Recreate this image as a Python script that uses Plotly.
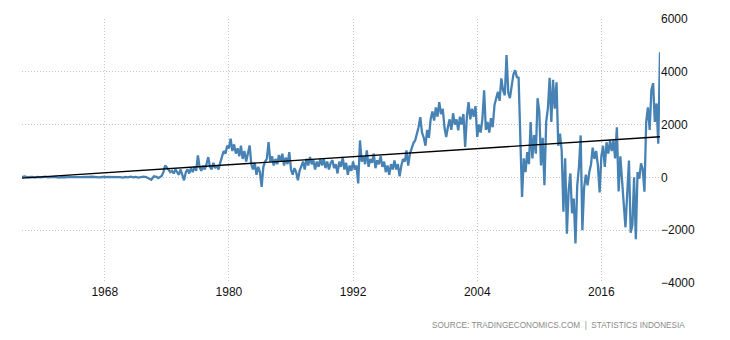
import pandas as pd
import plotly.graph_objects as go

# Quarterly values 1960-01 .. 1972-10 (USD million)
early_values = [
    20, 35, 10, 25,
    15, -10, 20, 5,
    10, 25, 0, 15,
    5, 20, -5, 10,
    15, 0, 20, 10,
    5, 15, -10, 10,
    20, 5, 15, 25,
    10, 20, 0, 15,
    15, 5, 25, 10,
    0, 20, 10, -10,
    15, 5, 25, 0,
    20, -5, 10, 30,
    15, -40, -90, 40,
]

# Bi-monthly values 1973-01 .. 2021-09 (USD million)
late_values = [
    20, -30, 10, 50, 200, 450,          # 1973
    380, 300, 200, 250, 150, 300,       # 1974
    200, 100, 300, 50, -110, 200,       # 1975
    300, 150, 350, 200, 400, 250,       # 1976
    830, 400, 250, 450, 300, 500,       # 1977
    770, 400, 300, 550, 350, 450,       # 1978
    300, 560, 760, 1000, 900, 1200,     # 1979
    1100, 1470, 1000, 1250, 900, 1100,  # 1980
    800, 1200, 700, 1000, 600, 900,     # 1981
    1210, 500, 300, 550, 100, 400,      # 1982
    200, -360, 400, 600, 700, 1340,     # 1983
    600, 800, 450, 700, 500, 850,       # 1984
    600, 900, 450, 750, 500, 960,       # 1985
    300, 100, 350, 200, -110, 250,      # 1986
    400, 600, 300, 700, 450, 770,       # 1987
    500, 650, 300, 600, 400, 700,       # 1988
    450, 720, 350, 600, 300, 550,       # 1989
    650, 350, 500, 150, 600, 400,       # 1990
    770, 300, 550, 100, 450, 250,       # 1991
    600, 300, 450, -230, 1400, 600,     # 1992
    800, 500, 1020, 400, 700, 550,      # 1993
    900, 350, 650, 500, 800, 400,       # 1994
    600, 200, 450, 100, 500, 300,       # 1995
    640, 300, 500, 40, 450, 700,        # 1996
    600, 1020, 450, 900, 1100, 1300,    # 1997
    1400, 1600, 1900, 2280, 1700, 1500, # 1998
    1200, 1800, 1500, 2200, 2500, 2150, # 1999
    2650, 2300, 2850, 2400, 2600, 1900, # 2000
    1530, 1900, 2200, 1800, 2430, 2000, # 2001
    2200, 1780, 2300, 2000, 2400, 1150, # 2002
    2300, 2850, 2200, 2600, 2300, 2700, # 2003
    1530, 2000, 1700, 2200, 3300, 1800, # 2004
    2100, 1700, 2240, 1900, 2730, 3000, # 2005
    3240, 2900, 3750, 3300, 3110, 4630, # 2006
    3200, 3000, 3380, 3900, 4060, 3800, # 2007
    3770, 1860, -740, 720, 200, 960,    # 2008
    500, 2100, 720, 1600, 900, 3000,    # 2009
    2480, 450, 1500, -300, 2100, 2620,  # 2010
    3770, 2100, 3700, 2600, 3600, 1200, # 2011
    1660, 1020, -1300, 720, -2130, -500,# 2012
    150, -1360, -800, -2500, -300, 400, # 2013
    1590, -2000, -400, 100, -300, 200,  # 2014
    500, 1130, 700, 1000, 450, -570,    # 2015
    800, 1200, 400, 1330, 900, 1400,    # 2016
    1000, 1400, 720, 1900, -530, 800,   # 2017
    -370, -1000, -1890, -800, 640, -2100, # 2018
    -1800, 0, -2340, 200, -50, 530,     # 2019
    300, -540, 2100, 2650, 1800, 3300,  # 2020
    3570, 2100, 2800, 1280, 4740,       # 2021
]

trend_dates = ["1960-01-01", "2021-09-01"]
trend_values = [-30, 1540]

x_ticks = ["1968-01-01", "1980-01-01", "1992-01-01", "2004-01-01", "2016-01-01"]
x_tick_labels = ["1968", "1980", "1992", "2004", "2016"]
y_ticks = [-4000, -2000, 0, 2000, 4000, 6000]

early_dates = pd.date_range("1960-01-01", periods=len(early_values), freq="QS")
late_dates = pd.date_range("1973-01-01", periods=len(late_values), freq="2MS")
dates = list(early_dates) + list(late_dates)
values = early_values + late_values

fig = go.Figure()
fig.add_trace(go.Scatter(x=dates, y=values, mode="lines",
                         line=dict(color="#4682b4", width=2.3), hoverinfo="skip"))
fig.add_trace(go.Scatter(x=trend_dates, y=trend_values, mode="lines",
                         line=dict(color="#000000", width=1.3), hoverinfo="skip"))

font_family = "Liberation Sans, Arial, sans-serif"
grid_style = dict(showgrid=True, gridcolor="#c4c4c4", griddash="1px,2px", gridwidth=1,
                  zeroline=False, showline=False, ticks="")
fig.update_layout(
    width=730, height=340,
    margin=dict(l=22, r=70, t=19, b=57),
    paper_bgcolor="white", plot_bgcolor="white",
    showlegend=False,
    font=dict(family=font_family, size=12, color="#111"),
    xaxis=dict(
        type="date", range=["1960-01-01", "2021-09-01"],
        tickvals=x_ticks, ticktext=x_tick_labels, **grid_style,
    ),
    yaxis=dict(
        side="right", range=[-4000, 6000], tickvals=y_ticks, **grid_style,
    ),
    annotations=[dict(
        text="SOURCE: TRADINGECONOMICS.COM  |  STATISTICS INDONESIA",
        xref="paper", yref="paper", x=(687 - 22) / 638, y=-(325 - 283) / 264,
        xanchor="right", yanchor="middle", showarrow=False,
        font=dict(family="Liberation Sans, Arial, sans-serif", size=8.2, color="#8a8a8a"),
    )],
)

fig.write_html("out.html")
